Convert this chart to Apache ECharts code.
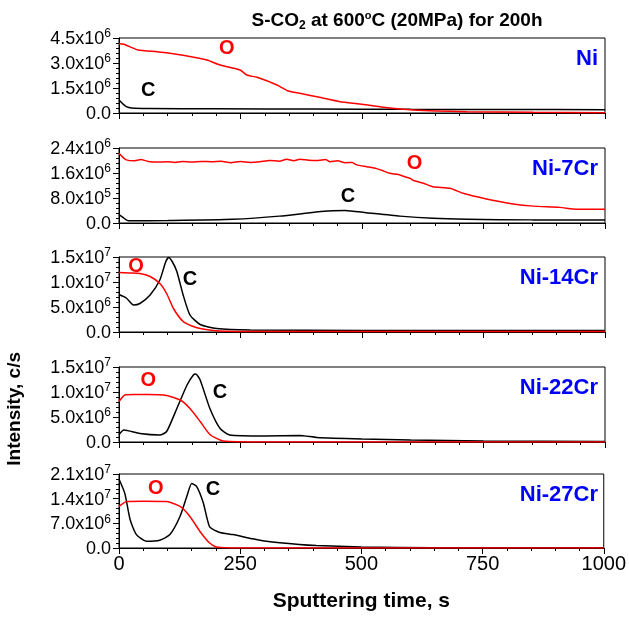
<!DOCTYPE html>
<html>
<head>
<meta charset="utf-8">
<script src="https://cdn.jsdelivr.net/npm/echarts@6/dist/echarts.min.js"></script>
<style>html,body{margin:0;padding:0;background:#fff}#c{width:629px;height:617px}</style>
</head>
<body>
<div id="c"></div>
<script>
// ---- data ----
const panelNames = ['Ni', 'Ni-7Cr', 'Ni-14Cr', 'Ni-22Cr', 'Ni-27Cr'];
const yMax = [4.5e6, 2.4e6, 1.5e7, 1.5e7, 2.1e7];
const yStep = [1.5e6, 8.0e5, 5.0e6, 5.0e6, 7.0e6];
const xTicks = [0, 250, 500, 750, 1000];

const niO = [[0,4.15e6],[10,4.12e6],[39,3.78e6],[78,3.68e6],[93,3.63e6],[140,3.42e6],[181,3.18e6],[208,2.88e6],[249,2.58e6],[263,2.28e6],[284,2.14e6],[325,1.68e6],[348,1.32e6],[372,1.18e6],[410,0.96e6],[455,0.68e6],[496,0.54e6],[544,0.34e6],[605,0.18e6],[716,0.08e6],[852,0.04e6],[1000,0.02e6]];
const niC = [[0,0.78e6],[8,0.55e6],[15,0.38e6],[26,0.30e6],[60,0.27e6],[200,0.25e6],[400,0.24e6],[600,0.22e6],[800,0.21e6],[1000,0.20e6]];

const ni7O = [[0,2.23e6],[8,2.10e6],[15,2.02e6],[30,1.99e6],[45,2.03e6],[60,1.97e6],[80,1.95e6],[100,1.96e6],[115,1.94e6],[130,1.97e6],[150,1.95e6],[170,1.97e6],[190,1.96e6],[210,1.98e6],[230,1.93e6],[250,1.97e6],[270,1.94e6],[290,1.96e6],[310,2.00e6],[330,1.98e6],[345,2.04e6],[360,1.99e6],[372,2.04e6],[390,2.01e6],[410,2.00e6],[425,2.03e6],[434,1.96e6],[450,1.99e6],[465,1.93e6],[480,1.94e6],[489,1.86e6],[510,1.80e6],[530,1.74e6],[545,1.66e6],[557,1.59e6],[575,1.55e6],[590,1.47e6],[599,1.43e6],[606,1.36e6],[625,1.28e6],[646,1.16e6],[681,1.11e6],[708,0.95e6],[756,0.77e6],[811,0.61e6],[852,0.54e6],[907,0.50e6],[942,0.44e6],[1000,0.44e6]];
const ni7C = [[0,0.27e6],[8,0.18e6],[19,0.07e6],[100,0.08e6],[235,0.12e6],[330,0.22e6],[410,0.36e6],[440,0.39e6],[465,0.40e6],[509,0.33e6],[578,0.22e6],[646,0.15e6],[716,0.12e6],[850,0.10e6],[1000,0.10e6]];

const ni14O = [[0,1.19e7],[20,1.18e7],[43,1.17e7],[64,1.11e7],[84,0.97e7],[98,0.77e7],[112,0.47e7],[132,0.21e7],[150,0.12e7],[167,0.07e7],[208,0.02e7],[300,0.01e7],[1000,0.01e7]];
const ni14C = [[0,0.75e7],[15,0.68e7],[30,0.54e7],[43,0.57e7],[64,0.74e7],[84,1.04e7],[96,1.40e7],[102,1.49e7],[110,1.40e7],[119,1.21e7],[132,0.74e7],[146,0.34e7],[167,0.15e7],[201,0.07e7],[270,0.04e7],[500,0.03e7],[1000,0.03e7]];

const ni22O = [[0,0.81e7],[12,0.94e7],[30,0.95e7],[60,0.95e7],[98,0.93e7],[126,0.84e7],[146,0.67e7],[167,0.41e7],[187,0.15e7],[215,0.02e7],[300,0.0],[1000,0.0]];
const ni22C = [[0,0.15e7],[10,0.24e7],[43,0.17e7],[84,0.14e7],[98,0.21e7],[119,0.67e7],[140,1.14e7],[153,1.34e7],[158,1.36e7],[167,1.24e7],[187,0.67e7],[208,0.27e7],[228,0.14e7],[300,0.12e7],[372,0.13e7],[407,0.09e7],[500,0.06e7],[600,0.04e7],[750,0.02e7],[1000,0.01e7]];

const ni27O = [[0,1.18e7],[16,1.32e7],[50,1.33e7],[98,1.32e7],[126,1.18e7],[146,0.90e7],[167,0.47e7],[187,0.14e7],[201,0.03e7],[250,0.0],[1000,0.0]];
const ni27C = [[0,1.96e7],[12,1.55e7],[23,0.80e7],[36,0.38e7],[57,0.19e7],[84,0.22e7],[105,0.38e7],[126,0.90e7],[140,1.47e7],[150,1.83e7],[160,1.75e7],[174,1.28e7],[187,0.60e7],[208,0.44e7],[235,0.38e7],[276,0.26e7],[304,0.19e7],[372,0.10e7],[407,0.07e7],[500,0.03e7],[650,0.01e7],[1000,0.01e7]];

const oSeries = [niO, ni7O, ni14O, ni22O, ni27O];
const cSeries = [niC, ni7C, ni14C, ni22C, ni27C];
// annotation anchors (data coordinates) for the "O" and "C" labels
const oLabelAt = [[222,3.9e6],[608,1.92e6],[35,1.32e7],[60,1.24e7],[76,1.70e7]];
const cLabelAt = [[60,1.38e6],[471,0.86e6],[146,1.06e7],[208,1.0e7],[194,1.65e7]];

// ---- layout ----
const tops = [38, 148, 257, 367, 474];
const heights = [75, 75, 75, 75, 74];
const FONT = 'Liberation Sans, Arial, sans-serif';

function yFmt(v) {
  if (v === 0) return '{b|0.0}';
  const e = Math.floor(Math.log10(v) + 1e-9);
  const m = v / Math.pow(10, e);
  return '{b|' + m.toFixed(1) + 'x10}{s|' + e + '}';
}

const grid = [], xAxis = [], yAxis = [], series = [], graphic = [];
for (let i = 0; i < 5; i++) {
  grid.push({left: 119, right: 24, top: tops[i], height: heights[i], show: true, borderColor: '#000', borderWidth: 1, backgroundColor: 'transparent'});
  const last = i === 4;
  xAxis.push({
    type: 'value', gridIndex: i, min: xTicks[0], max: xTicks[xTicks.length - 1], interval: 250,
    axisLine: {onZero: false, lineStyle: {color: '#000', width: 1}},
    axisTick: {show: true, inside: false, length: 6, lineStyle: {color: '#000'}},
    minorTick: {show: true, splitNumber: 5, length: 3, lineStyle: {color: '#000'}},
    splitLine: {show: false},
    axisLabel: {show: last, color: '#000', fontSize: 20, fontFamily: FONT, margin: 6, formatter: v => String(v)},
    name: last ? 'Sputtering time, s' : '', nameLocation: 'middle', nameGap: 43,
    nameTextStyle: {color: '#000', fontSize: 21, fontWeight: 'bold', fontFamily: FONT}
  });
  yAxis.push({
    type: 'value', gridIndex: i, min: 0, max: yMax[i], interval: yStep[i],
    axisLine: {show: true, lineStyle: {color: '#000', width: 1}},
    axisTick: {show: true, inside: false, length: 6, lineStyle: {color: '#000'}},
    minorTick: {show: true, splitNumber: 5, length: 3, lineStyle: {color: '#000'}},
    splitLine: {show: false},
    axisLabel: {
      color: '#000', fontFamily: FONT, margin: 8, formatter: yFmt,
      rich: {
        b: {fontSize: 18, fontFamily: FONT, color: '#000', lineHeight: 20, verticalAlign: 'bottom'},
        s: {fontSize: 12, fontFamily: FONT, color: '#000', lineHeight: 20, verticalAlign: 'top', padding: [0, 0, 8, 0]}
      }
    }
  });
  series.push({
    type: 'line', xAxisIndex: i, yAxisIndex: i, data: oSeries[i], showSymbol: false, smooth: 0.2,
    lineStyle: {color: '#ff0000', width: 1.5}, itemStyle: {color: '#ff0000'}, clip: true, z: 3,
    markPoint: {symbol: 'circle', symbolSize: 0, silent: true, animation: false,
      label: {show: true, position: 'inside', formatter: 'O', color: '#ff0000', fontSize: 20, fontWeight: 'bold', fontFamily: FONT},
      data: [{coord: oLabelAt[i]}]}
  });
  series.push({
    type: 'line', xAxisIndex: i, yAxisIndex: i, data: cSeries[i], showSymbol: false, smooth: 0.2,
    lineStyle: {color: '#000000', width: 1.5}, itemStyle: {color: '#000'}, clip: true, z: 2,
    markPoint: {symbol: 'circle', symbolSize: 0, silent: true, animation: false,
      label: {show: true, position: 'inside', formatter: 'C', color: '#000', fontSize: 20, fontWeight: 'bold', fontFamily: FONT},
      data: [{coord: cLabelAt[i]}]}
  });
  graphic.push({
    type: 'text', right: 31, top: tops[i] + 10,
    style: {text: panelNames[i], fill: '#0000ff', font: 'bold 22px ' + FONT}
  });
}
graphic.push({
  type: 'text', left: 5, top: 352, rotation: Math.PI / 2,
  style: {text: 'Intensity, c/s', fill: '#000', font: 'bold 19px ' + FONT}
});

const chart = echarts.init(document.getElementById('c'), null, {renderer: 'canvas'});
chart.setOption({
  animation: false,
  backgroundColor: '#fff',
  title: {
    text: '{a|S-CO}{sub|2}{a| at 600}{sup|o}{a|C (20MPa) for 200h}',
    left: 392, top: 4, textAlign: 'center',
    textStyle: {
      rich: {
        a: {fontSize: 19, fontWeight: 'bold', fontFamily: FONT, color: '#000', lineHeight: 24},
        sub: {fontSize: 12, fontWeight: 'bold', fontFamily: FONT, color: '#000', lineHeight: 24, padding: [10, 0, 0, 0]},
        sup: {fontSize: 11, fontWeight: 'bold', fontFamily: FONT, color: '#000', lineHeight: 24, padding: [0, 0, 10, 0]}
      }
    }
  },
  grid, xAxis, yAxis, series, graphic
});
</script>
</body>
</html>
